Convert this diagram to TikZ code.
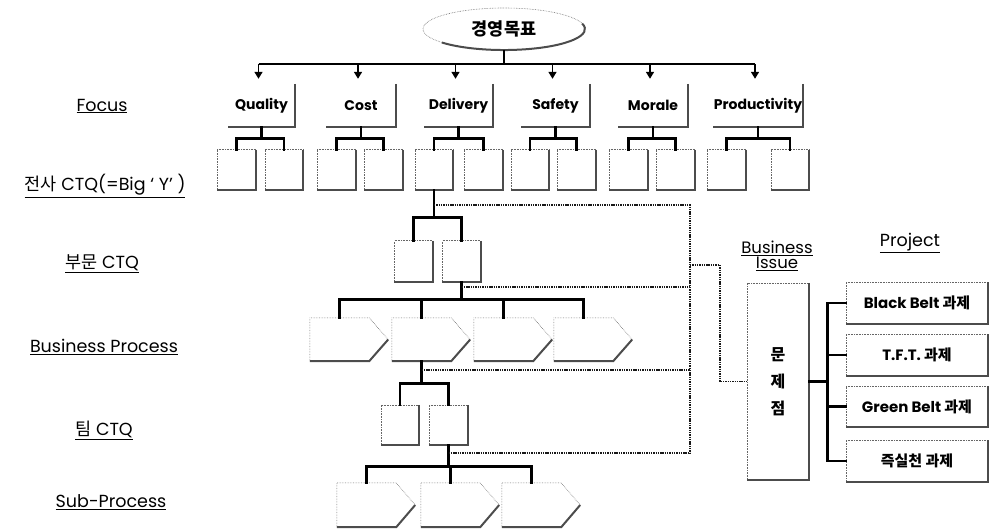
\documentclass[tikz,border=0pt]{standalone}
\usepackage{fontspec}
\setmainfont{Poppins}
\newfontfamily\kr{Noto Sans CJK KR}
\usetikzlibrary{arrows.meta,calc,shapes.geometric}
\newcommand\shadowed[1]{%
  \draw[thinedge] (#1.south west) -- (#1.north west) -- (#1.north east);
  \draw[shadeedge] (#1.north east) -- (#1.south east) -- (#1.south west);}
\newcommand\pentagon[1]{%
  \draw[thinedge] (#1.south west) -- (#1.north west) -- (#1.north east) -- ($(#1.east)+(19,0)$);
  \draw[shadeedge] ($(#1.east)+(19,0)$) -- (#1.south east) -- (#1.south west);}
\newcommand\focusframe[1]{%
  \draw[shadeedge] (#1.north east) -- (#1.south east) -- (#1.south west);}
\begin{document}
\begin{tikzpicture}[x=1pt,y=-1pt,
  conn/.style={line width=2.8pt, black, line cap=rect},
  busline/.style={line width=1.8pt, black},
  arr/.style={line width=1.6pt, black, -{Triangle[width=8pt,length=7pt]}},
  dots/.style={line width=1.7pt, black!90, dash pattern=on 1.4pt off 0.9pt},
  thinedge/.style={line width=0.6pt, densely dotted, black!60},
  shadeedge/.style={line width=2pt, black!70},
  fbox/.style={minimum width=#1, minimum height=43pt, inner sep=0pt, font=\fontsize{14}{16}\selectfont\bfseries},
  sbox/.style={minimum width=38pt, minimum height=40pt, inner sep=0pt},
  pbox/.style={minimum width=59pt, minimum height=#1, inner sep=0pt},
  prj/.style={minimum width=142pt, minimum height=41pt, inner sep=0pt, font=\fontsize{15}{17}\selectfont\bfseries},
  lbl/.style={font=\fontsize{17.5}{20}\selectfont, inner sep=1pt}
]
\useasboundingbox (0,0) rectangle (990,529);

% goal ellipse
\node[ellipse, minimum width=162pt, minimum height=42pt, inner sep=0pt, font=\fontsize{17.5}{19}\selectfont\bfseries\kr] (goal) at (504,29) {경영목표};
\draw[thinedge] (goal.center) ellipse[x radius=81, y radius=21];
\draw[shadeedge] ($(goal.center)+(78.2,-5.4)$) arc[start angle=-15, end angle=140, x radius=81, y radius=21];

% left labels
\node[lbl] (L1) at (102,106) {\underline{Focus}};
\node[lbl] (L2) at (105,186) {\underline{{\kr 전사} CTQ(=Big ` Y' )}};
\node[lbl] (L3) at (102,264) {\underline{{\kr 부문} CTQ}};
\node[lbl] (L4) at (104,347) {\underline{Business Process}};
\node[lbl] (L5) at (104,430) {\underline{{\kr 팀} CTQ}};
\node[lbl] (L6) at (111,502) {\underline{Sub-Process}};

% focus boxes
\node[fbox=67pt] (Q) at (261.5,105.5) {\raisebox{-3pt}{Quality}};
\node[fbox=70pt] (C) at (361,105.5) {\raisebox{-3pt}{Cost}};
\node[fbox=69pt] (D) at (458.5,105.5) {\raisebox{-3pt}{Delivery}};
\node[fbox=69pt] (S) at (555.5,105.5) {\raisebox{-3pt}{Safety}};
\node[fbox=70pt] (M) at (653,105.5) {\raisebox{-3pt}{Morale}};
\node[fbox=90pt] (P) at (758,105.5) {\raisebox{-3pt}{Productivity}};
\foreach \n in {Q,C,D,S,M,P} {\focusframe{\n}}

% bus from goal
\coordinate (busy) at (0,64);
\draw[busline] (goal.south) -- (goal.south |- busy);
\draw[busline] ($(Q.north |- busy)+(-3,0)$) -- ($(P.north |- busy)+(-3,0)$);
\foreach \n in {Q,C,D,S,M,P} {\draw[arr] ($(\n.north |- busy)+(-3,0)$) -- ($(\n.north)+(-3,-5)$);}

% company CTQ boxes
\node[sbox] (Qa) at (236.5,170) {};
\node[sbox] (Qb) at (284,170) {};
\node[sbox] (Ca) at (336.5,170) {};
\node[sbox] (Cb) at (383.5,170) {};
\node[sbox] (Da) at (434,170) {};
\node[sbox] (Db) at (483.5,170) {};
\node[sbox] (Sa) at (530,170) {};
\node[sbox] (Sb) at (576.5,170) {};
\node[sbox] (Ma) at (628.5,170) {};
\node[sbox] (Mb) at (675.5,170) {};
\node[sbox] (Pa) at (726.5,170) {};
\node[sbox] (Pb) at (790,170) {};
\foreach \n in {Qa,Qb,Ca,Cb,Da,Db,Sa,Sb,Ma,Mb,Pa,Pb} {\shadowed{\n}}
\foreach \n in {Q,C,D,S,M,P} {
  \draw[conn] (\n.south) -- ++(0,11) coordinate (\n j);
  \draw[conn] (\n a.north) |- (\n j) -| (\n b.north);
}

% division CTQ
\node[sbox, minimum height=41pt] (B1) at (413.5,261.5) {};
\node[sbox, minimum height=41pt] (B2) at (461.5,261.5) {};
\shadowed{B1}\shadowed{B2}
\draw[conn] (Da.south) -- ++(0,27) coordinate (dj);
\draw[conn] (B1.north) |- (dj) -| (B2.north);

% business process
\node[pbox=43pt] (P1) at (339.5,339.5) {};
\node[pbox=43pt] (P2) at (421.5,339.5) {};
\node[pbox=43pt] (P3) at (503.5,339.5) {};
\node[pbox=43pt] (P4) at (583.5,339.5) {};
\foreach \n in {P1,P2,P3,P4} {\pentagon{\n}}
\draw[conn] (B2.south) -- ++(0,17) coordinate (bj);
\draw[conn] (P1.north) |- (bj) -| (P4.north);
\draw[conn] (P2.north) -- (P2.north |- bj);
\draw[conn] (P3.north) -- (P3.north |- bj);

% team CTQ
\node[sbox] (T1) at (400,425) {};
\node[sbox] (T2) at (448.5,425) {};
\shadowed{T1}\shadowed{T2}
\draw[conn] (P2.south) -- ++(0,22) coordinate (pj);
\draw[conn] (T1.north) |- (pj) -| (T2.north);

% sub process
\node[pbox=44pt] (S1) at (366.5,505) {};
\node[pbox=44pt] (S2) at (450.5,505) {};
\node[pbox=44pt] (S3) at (531.5,505) {};
\foreach \n in {S1,S2,S3} {\pentagon{\n}}
\draw[conn] (T2.south) -- ++(0,21) coordinate (tj);
\draw[conn] (S1.north) |- (tj) -| (S3.north);
\draw[conn] (S2.north) -- (S2.north |- tj);

% business issue box
\node[minimum width=62pt, minimum height=197pt, inner sep=0pt, align=center,
      font=\fontsize{16}{27}\selectfont\bfseries\kr] (issue) at (778,381.5) {문\\제\\점};
\shadowed{issue}
\node[align=center, font=\fontsize{16.5}{19}\selectfont] (hbi) at (777,256) {\underline{Business}\\[-4pt]\underline{Issue}};
\node[font=\fontsize{17.5}{20}\selectfont] (hpj) at (910,243) {\underline{Project}};

% dotted links
\coordinate (v1) at (690,205);
\coordinate (v2) at (690,287);
\coordinate (v3) at (690,370);
\coordinate (v4) at (690,453);
\coordinate (vj) at (690,265);
\draw[dots] (Da.south |- v1) -- (v1) -- (v4);
\draw[dots] (B2.south |- v2) -- (v2);
\draw[dots] (P2.south |- v3) -- (v3);
\draw[dots] (T2.south |- v4) -- (v4);
\draw[dots] (vj) -| ($(issue.west)+(-27,0)$) -- (issue.west);

% projects
\node[prj] (PB) at (917,303) {Black Belt {\kr 과제}};
\node[prj] (PT) at (917,355) {T.F.T. {\kr 과제}};
\node[prj] (PG) at (917,406.5) {Green Belt {\kr 과제}};
\node[prj] (PS) at (917,461) {{\kr 즉실천 과제}};
\foreach \n in {PB,PT,PG,PS} {\shadowed{\n}}
\draw[conn] (issue.east) -- ++(18,0) coordinate (ij);
\draw[conn] (PB.west) -| (ij) |- (PS.west);
\draw[conn] (PT.west) -- (PT.west -| ij);
\draw[conn] (PG.west) -- (PG.west -| ij);
\end{tikzpicture}
\end{document}
